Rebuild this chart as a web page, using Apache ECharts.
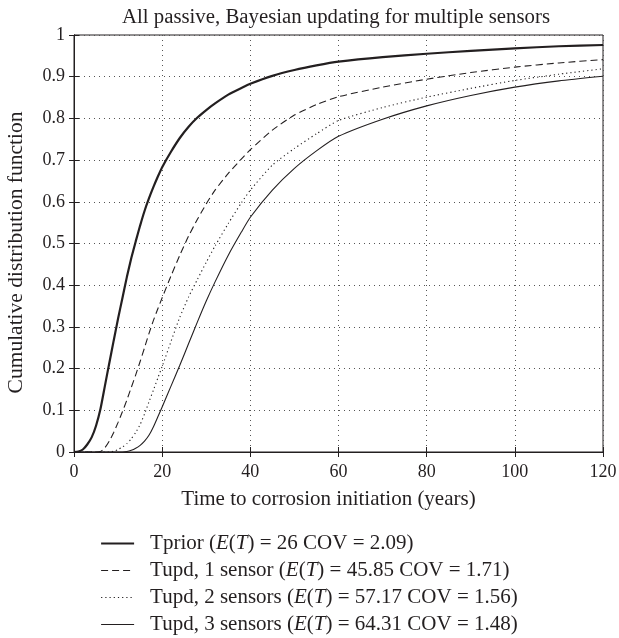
<!DOCTYPE html>
<html>
<head>
<meta charset="utf-8">
<script src="https://cdn.jsdelivr.net/npm/echarts@6/dist/echarts.min.js"></script>
<style>html,body{margin:0;padding:0;background:#fff;}#c{width:619px;height:638px;}</style>
</head>
<body>
<div id="c"></div>
<script>
var titleText = 'All passive, Bayesian updating for multiple sensors';
var xName = 'Time to corrosion initiation (years)';
var yName = 'Cumulative distribution function';
var seriesNames = ['Tprior', 'Tupd, 1 sensor', 'Tupd, 2 sensors', 'Tupd, 3 sensors'];
var legendStats = [['26', '2.09'], ['45.85', '1.71'], ['57.17', '1.56'], ['64.31', '1.48']];
var xTicks = [0, 20, 40, 60, 80, 100, 120];
var yTicks = [0, 0.1, 0.2, 0.3, 0.4, 0.5, 0.6, 0.7, 0.8, 0.9, 1];

var years = [0,1,2,3,4,5,6,7,8,9,10,11,12,13,14,15,16,17,18,19,20,22,24,26,28,30,32,35,38,40,45,50,55,60,70,80,90,100,110,120];
var tPrior = [0,0.001,0.006,0.018,0.035,0.063,0.103,0.158,0.213,0.267,0.32,0.37,0.42,0.465,0.505,0.543,0.578,0.608,0.635,0.66,0.683,0.72,0.753,0.78,0.802,0.82,0.836,0.857,0.873,0.883,0.902,0.916,0.927,0.936,0.947,0.955,0.962,0.968,0.973,0.976];
var tUpd1 = [0,0,0,0,0,0,0.001,0.01,0.026,0.047,0.071,0.097,0.125,0.155,0.185,0.217,0.25,0.284,0.315,0.343,0.37,0.422,0.472,0.518,0.558,0.595,0.628,0.668,0.703,0.725,0.772,0.808,0.833,0.852,0.875,0.894,0.91,0.923,0.933,0.941];
var tUpd2 = [0,0,0,0,0,0,0,0,0,0.002,0.006,0.012,0.02,0.032,0.047,0.066,0.091,0.12,0.148,0.177,0.205,0.265,0.323,0.372,0.414,0.455,0.494,0.548,0.598,0.628,0.688,0.728,0.763,0.795,0.826,0.851,0.872,0.891,0.906,0.919];
var tUpd3 = [0,0,0,0,0,0,0,0,0,0,0,0,0.001,0.004,0.009,0.016,0.026,0.04,0.06,0.084,0.108,0.158,0.208,0.26,0.312,0.362,0.408,0.472,0.528,0.563,0.628,0.68,0.722,0.757,0.798,0.83,0.855,0.875,0.89,0.901];

var ink = '#231f20';
var serif = '"Liberation Serif", "Times New Roman", serif';

function pairs(vals) { return years.map(function (t, i) { return [t, vals[i]]; }); }

var values = [tPrior, tUpd1, tUpd2, tUpd3];
var styles = [
  { width: 2.2, type: 'solid' },
  { width: 1.1, type: [7, 4] },
  { width: 1.1, type: [1.2, 3] },
  { width: 1.1, type: 'solid' }
];

var series = seriesNames.map(function (n, i) {
  return {
    name: n, type: 'line', data: pairs(values[i]), showSymbol: false, symbol: 'none',
    smooth: 0.2,
    xAxisIndex: 0, yAxisIndex: 0,
    lineStyle: { color: ink, width: styles[i].width, type: styles[i].type },
    itemStyle: { color: ink },
    emphasis: { disabled: true }, animation: false
  };
});

var chart = echarts.init(document.getElementById('c'), null, { renderer: 'canvas' });
chart.setOption({
  backgroundColor: '#fff',
  animation: false,
  title: {
    text: titleText, left: 331, top: 2, textAlign: 'center',
    textStyle: { fontFamily: serif, fontSize: 20.8, fontWeight: 'normal', color: ink }
  },
  grid: { left: 74, top: 35, right: 16, bottom: 186, show: true, borderColor: ink, borderWidth: 1,
    containLabel: false, outerBoundsMode: 'none' },
  xAxis: [{
    type: 'value', min: 0, max: 120, interval: 20, position: 'bottom',
    name: xName, nameLocation: 'middle', nameGap: 37,
    nameTextStyle: { fontFamily: serif, fontSize: 21, color: ink, padding: [0, 20, 0, 0] },
    axisLine: { show: true, lineStyle: { color: ink, width: 1 } },
    axisTick: { show: true, inside: true, length: 5, lineStyle: { color: ink } },
    axisLabel: { fontFamily: serif, fontSize: 18, color: ink, margin: 11 },
    splitLine: { show: true, lineStyle: { color: '#555', width: 1, type: [1, 4] } }
  }, {
    type: 'value', min: 0, max: 120, interval: 20, position: 'top',
    axisLine: { show: true, lineStyle: { color: ink, width: 1 } },
    axisTick: { show: true, inside: true, length: 5, lineStyle: { color: ink } },
    axisLabel: { show: false }, splitLine: { show: false }
  }],
  yAxis: [{
    type: 'value', min: 0, max: 1, interval: 0.1, position: 'left',
    name: yName, nameLocation: 'middle', nameGap: 47, nameRotate: 90,
    nameTextStyle: { fontFamily: serif, fontSize: 21.5, color: ink, padding: [0, 18, 0, 0] },
    axisLine: { show: true, lineStyle: { color: ink, width: 1 } },
    axisTick: { show: true, inside: true, length: 5, lineStyle: { color: ink } },
    axisLabel: { fontFamily: serif, fontSize: 18, color: ink, margin: 9,
      formatter: function (v) { return String(Math.round(v * 10) / 10); } },
    splitLine: { show: true, lineStyle: { color: '#555', width: 1, type: [1, 4] } }
  }, {
    type: 'value', min: 0, max: 1, interval: 0.1, position: 'right',
    axisLine: { show: true, lineStyle: { color: ink, width: 1 } },
    axisTick: { show: true, inside: true, length: 5, lineStyle: { color: ink } },
    axisLabel: { show: false }, splitLine: { show: false }
  }],
  legend: {
    orient: 'vertical', left: 100, top: 533, height: 110, padding: 0,
    itemWidth: 33, itemHeight: 14, itemGap: 6,
    data: seriesNames.map(function (n, i) {
      return { name: n, lineStyle: { width: styles[i].width, type: styles[i].type, color: ink } };
    }),
    selectedMode: false,
    itemStyle: { opacity: 0 },
    formatter: function (name) {
      var i = seriesNames.indexOf(name);
      return name + ' ({i|E}({i|T}) = ' + legendStats[i][0] + ' COV = ' + legendStats[i][1] + ')';
    },
    textStyle: {
      fontFamily: serif, fontSize: 21, color: ink, lineHeight: 20, padding: [0, 0, 0, 11],
      rich: { i: { fontFamily: serif, fontSize: 21, fontStyle: 'italic', color: ink, lineHeight: 20 } }
    }
  },
  series: series
});
</script>
</body>
</html>
